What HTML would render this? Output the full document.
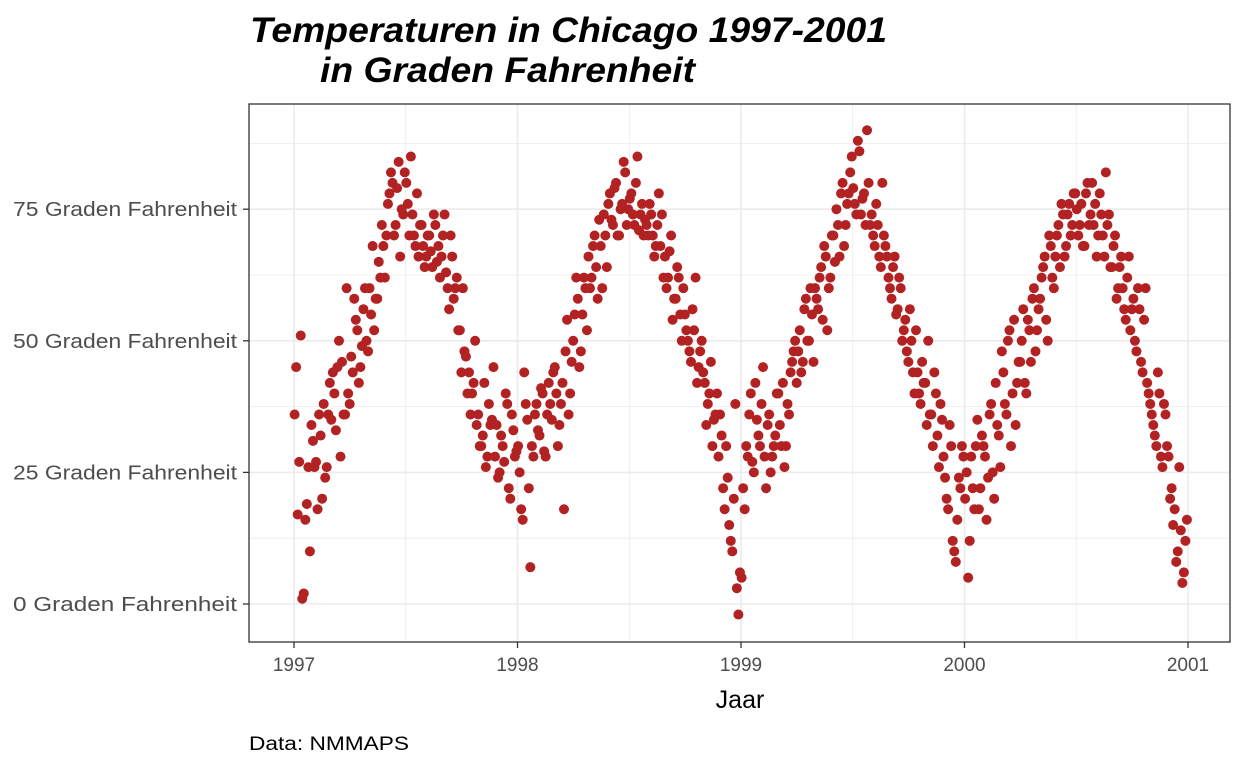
<!DOCTYPE html>
<html><head><meta charset="utf-8"><style>
body{margin:0;background:#fff;width:1248px;height:768px;overflow:hidden;font-family:"Liberation Sans",sans-serif}
</style></head><body>
<svg id="chart" width="1248" height="768" xmlns="http://www.w3.org/2000/svg">
<text x="250" y="42" font-family="Liberation Sans" font-weight="bold" font-style="italic" font-size="35" textLength="637" lengthAdjust="spacingAndGlyphs">Temperaturen in Chicago 1997-2001</text>
<text x="320" y="82" font-family="Liberation Sans" font-weight="bold" font-style="italic" font-size="35" textLength="375" lengthAdjust="spacingAndGlyphs">in Graden Fahrenheit</text>
<g id="grid"></g>
<g id="points"></g>
<rect x="249" y="104" width="981" height="538" fill="none" stroke="#333" stroke-width="1.3"/>
<g id="axes"></g>
<text x="740" y="708" text-anchor="middle" font-size="25">Jaar</text>
<text x="249" y="750" font-size="19" textLength="160" lengthAdjust="spacingAndGlyphs">Data: NMMAPS</text>
</svg>
<script>
const years=[1997,1998,1999,2000];
const temps1997=[36,17,51,2,19,10,31,27,36,20,24,36,35,40,45,28,36,60,38,44,54,42,49,60,48,55,52,58,62,68,70,78,80,72,84,75,82,76,85,70,78,72,68,66,70,64,72,68,66,74,60,70,58,62,52,60,47,44,40,50,36,30,42,28,34,45,34,25,30,40,22,36,28];
const temps1998=[30,18,44,35,7,28,38,32,40,28,42,35,45,30,38,18,54,40,50,62,45,55,60,66,62,70,58,68,74,64,78,72,80,70,76,82,75,78,72,85,74,70,72,76,70,68,78,74,66,62,70,58,64,55,60,52,48,56,62,45,50,42,38,46,35,40,36,22,30,15,10,38,-2];
const temps1999=[5,18,28,40,25,35,30,45,22,36,28,32,40,30,26,38,44,48,42,52,46,58,50,55,60,56,64,68,52,62,70,75,66,80,72,78,85,76,88,74,78,90,72,70,76,66,80,68,62,58,66,56,60,52,48,56,44,52,40,46,42,50,36,44,32,38,28,20,34,12,8,24,30];
const temps2000=[20,5,28,18,35,22,30,16,36,25,42,32,48,38,50,30,54,42,46,56,40,52,58,48,56,62,66,50,68,60,70,64,74,68,76,72,78,70,76,68,80,74,72,66,78,70,82,74,64,70,60,66,56,62,52,58,48,56,44,60,40,36,32,44,28,38,30,20,15,8,26,4,12];
const temps1997b=[45,27,1,16,26,34,26,18,32,38,26,42,44,33,50,46,36,40,47,58,52,45,56,50,60,68,58,65,72,62,76,82,70,79,66,74,80,70,74,68,66,72,64,70,67,74,65,62,70,63,56,66,60,52,44,48,40,36,42,34,30,32,26,38,35,28,24,32,27,38,20,33,29];
const temps1998b=[25,16,38,22,30,36,33,41,29,36,38,44,40,34,42,48,36,46,55,58,48,62,52,60,68,64,73,60,70,76,73,79,70,75,84,72,77,74,80,71,76,73,70,74,66,72,68,62,60,67,54,58,62,50,55,50,46,52,42,48,44,34,40,30,36,28,32,18,24,12,20,3,6];
const temps1999b=[22,30,36,27,42,32,38,28,34,25,30,40,34,42,30,36,46,50,48,44,56,50,60,46,58,62,54,66,60,70,65,72,78,68,76,82,79,74,86,77,72,80,74,68,72,64,70,66,60,64,55,62,50,54,46,50,40,44,38,42,34,36,30,40,26,35,24,18,30,10,16,22,28];
const temps2000b=[25,12,22,30,18,32,28,24,38,20,34,26,44,36,52,40,34,46,50,42,54,46,60,52,58,64,54,70,62,66,72,76,66,74,70,78,75,72,68,78,72,80,76,70,74,66,72,64,68,58,64,60,54,66,56,50,60,46,54,42,38,34,30,40,26,36,28,22,18,10,14,6,16];
const xTicks=[1997,1998,1999,2000,2001];
const yTicks=[0,25,50,75];
const yTickLabels=["0 Graden Fahrenheit","25 Graden Fahrenheit","50 Graden Fahrenheit","75 Graden Fahrenheit"];
const NS="http://www.w3.org/2000/svg";
const X=v=>294+(v-1997)*223.5;
const Y=v=>604-v*5.264;
const grid=document.getElementById('grid'),pts=document.getElementById('points'),axes=document.getElementById('axes');
function line(p,x1,y1,x2,y2,c,w){const l=document.createElementNS(NS,'line');l.setAttribute('x1',x1);l.setAttribute('y1',y1);l.setAttribute('x2',x2);l.setAttribute('y2',y2);l.setAttribute('stroke',c);l.setAttribute('stroke-width',w);p.appendChild(l);return l;}
for(let v=-12.5;v<=87.5;v+=12.5){const y=Y(v);if(y<104||y>642)continue;const l=line(grid,249,y,1230,y,'#ebebeb',v%25===0?1.6:0.8);

}
for(let v=1996.5;v<=2001.5;v+=0.5){const x=X(v);if(x<249||x>1230)continue;const l=line(grid,x,104,x,642,'#ebebeb',v%1===0?1.6:0.8);

}
function plot(arr,yr,off){arr.forEach((t,i)=>{const c=document.createElementNS(NS,'circle');
c.setAttribute('cx',X(yr+(i*5+off)/365.25));c.setAttribute('cy',Y(t));c.setAttribute('r',5);c.setAttribute('fill','#B22222');


pts.appendChild(c);});}
[temps1997,temps1998,temps1999,temps2000].forEach((a,i)=>plot(a,years[i],1));
[temps1997b,temps1998b,temps1999b,temps2000b].forEach((a,i)=>plot(a,years[i],3.5));
xTicks.forEach(v=>{const x=X(v);line(axes,x,642,x,648,'#333',1.3);const t=document.createElementNS(NS,'text');t.setAttribute('x',x);t.setAttribute('y',671);t.setAttribute('text-anchor','middle');t.setAttribute('font-size','19');t.setAttribute('fill','#4d4d4d');t.textContent=v;


axes.appendChild(t);});
yTicks.forEach((v,i)=>{const y=Y(v);line(axes,243,y,249,y,'#333',1.3);const t=document.createElementNS(NS,'text');t.setAttribute('x',237);t.setAttribute('y',y+7);t.setAttribute('text-anchor','end');t.setAttribute('font-size','20');t.setAttribute('fill','#4d4d4d');t.setAttribute('textLength','224');t.setAttribute('lengthAdjust','spacingAndGlyphs');t.textContent=yTickLabels[i];


axes.appendChild(t);});
</script>
</body></html>
